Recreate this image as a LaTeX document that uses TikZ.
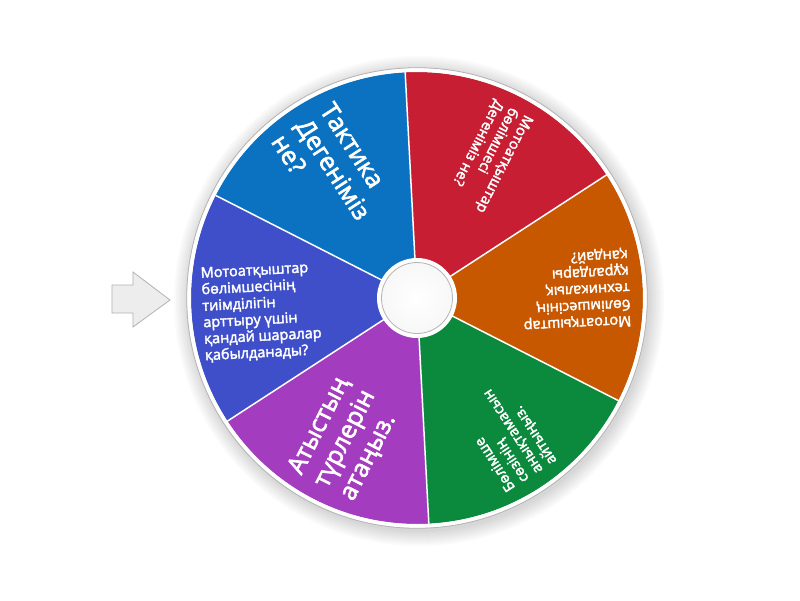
\documentclass[tikz,border=0pt]{standalone}
\usepackage{fontspec}
\setmainfont{Open Sans}
\newfontfamily\wheelfont{Open Sans}[FakeBold=2.5]
\usepackage{xcolor}
\usepackage{tikz}
\usetikzlibrary{calc}
\usetikzlibrary{positioning}
\definecolor{sliceblue}{HTML}{0B72C2}
\definecolor{slicered}{HTML}{C81E34}
\definecolor{sliceorange}{HTML}{C75800}
\definecolor{slicegreen}{HTML}{0B8A3D}
\definecolor{slicepurple}{HTML}{A43CBF}
\definecolor{sliceindigo}{HTML}{3F4FC9}
\definecolor{rimgray}{HTML}{B4B4B4}
\tikzset{>=latex}
\tikzstyle{slicetext} = [text=white, align=left, inner sep=0, anchor=west, font=\wheelfont\fontsize{14.5}{16.5}\selectfont]
\tikzstyle{bigtext} = [text=white, align=left, inner sep=0, anchor=west, font=\wheelfont\fontsize{25}{29}\selectfont]
\tikzstyle{divider} = [draw=white, line width=1.5]

\begin{document}
\begin{tikzpicture}[x=1pt, y=1pt]
\useasboundingbox (-417,-302) rectangle (383,298);
\fill [white] (-417,-302) rectangle (383,298);
% shadow round the wheel
\foreach \r in {231,233,...,245}
  \fill [black, opacity=0.018] (2,-3) circle (\r);
\coordinate (hub) at (0,0);
% slices
\fill [sliceblue]   (hub) -- (93:226) arc [start angle=93, end angle=153, radius=226] -- cycle;
\fill [slicered]    (hub) -- (33:226) arc [start angle=33, end angle=93, radius=226] -- cycle;
\fill [sliceorange] (hub) -- (-27:226) arc [start angle=-27, end angle=33, radius=226] -- cycle;
\fill [slicegreen]  (hub) -- (-87:226) arc [start angle=-87, end angle=-27, radius=226] -- cycle;
\fill [slicepurple] (hub) -- (-147:226) arc [start angle=-147, end angle=-87, radius=226] -- cycle;
\fill [sliceindigo] (hub) -- (153:226) arc [start angle=153, end angle=213, radius=226] -- cycle;
\foreach \a in {93,33,-27,-87,-147,153}
  \draw [divider] (hub) -- (\a:226);
% rim
\draw [white, line width=4] (hub) circle (228);
\draw [rimgray, line width=0.8] (hub) circle (230.3);
% texts
\node [bigtext, rotate=-57] (blueq) at (123:211) {Тактика\\Дегеніміз\\не?};
\node [slicetext, rotate=-117] (redq) at (63:213) {Мотоатқыштар\\бөлімшесі\\Дегеніміз не?};
\node [slicetext, rotate=-177] (orangeq) at (3:213) {Мотоатқыштар\\бөлімшесінің\\техникалық\\құралдары\\қандай?};
\node [slicetext, rotate=123] (greenq) at (-57:213) {Бөлімше\\сөзінің\\анықтамасын\\айтыңыз.};
\node [bigtext, rotate=63] (purpleq) at (-117:211) {Атыстың\\түрлерін\\атаңыз.};
\node [slicetext, rotate=3] (indigoq) at (184.6:215) {Мотоатқыштар\\бөлімшесінің\\тиімділігін\\арттыру үшін\\қандай шаралар\\қабылданады?};
% hub
\fill [white] (hub) circle (40);
\shade [inner color=white, outer color=gray!6] (hub) circle (35.5);
\draw [rimgray, line width=0.8] (hub) circle (35.5);
% pointer
\draw [fill=gray!14, draw=gray!60, line width=0.8]
  (-305,13) -- (-284,13) -- (-284,26) -- (-247,-2) -- (-284,-29) -- (-284,-15) -- (-305,-15) -- cycle;
\end{tikzpicture}
\end{document}
